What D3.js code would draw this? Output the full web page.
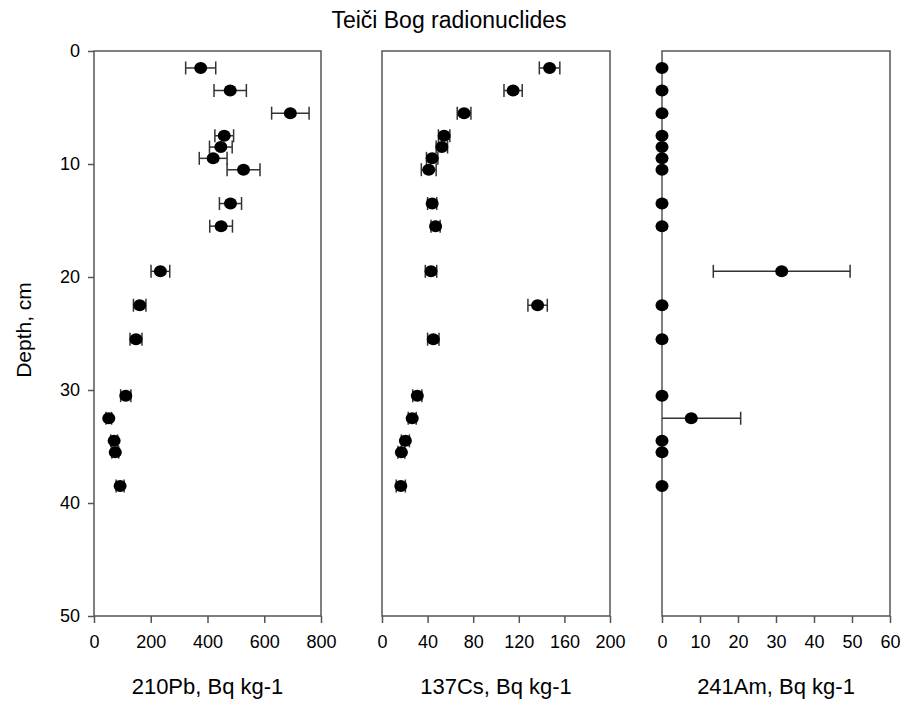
<!DOCTYPE html>
<html>
<head>
<meta charset="utf-8">
<script src="https://cdn.jsdelivr.net/npm/d3@7"></script>
<style>
  body { margin: 0; background: #fff; }
  text { font-family: "Liberation Sans", Arial, sans-serif; fill: #000; }
</style>
</head>
<body>
<svg width="904" height="707"></svg>
<script>
// depth of each slice, cm
var depth = [1.5, 3.5, 5.5, 7.5, 8.5, 9.5, 10.5, 13.5, 15.5, 19.5, 22.5, 25.5, 30.5, 32.5, 34.5, 35.5, 38.5];
// activities, Bq kg-1, with their uncertainties
var pb210 = [376, 480, 692, 459, 447, 420, 527, 481, 448, 234, 161, 148, 112, 52, 71, 75, 92];
var pb210Err = [53, 57, 66, 33, 40, 49, 58, 39, 40, 33, 22, 21, 18, 10, 12, 12, 14];
var cs137 = [147, 115, 72, 54.5, 52.5, 44, 41, 44, 47, 43, 136.5, 45, 31, 26.5, 20.5, 17, 16.5];
var cs137Err = [9, 8, 6, 5, 5, 5, 6.5, 4, 4, 5, 8.5, 5, 4, 3.5, 3.5, 3, 4];
var am241 = [0, 0, 0, 0, 0, 0, 0, 0, 0, 31.5, 0, 0, 0, 7.7, 0, 0, 0];
var am241Err = [0, 0, 0, 0, 0, 0, 0, 0, 0, 18, 0, 0, 0, 13, 0, 0, 0];
// tick labels
var depthTicks = [0, 10, 20, 30, 40, 50];
var pbTicks = [0, 200, 400, 600, 800];
var csTicks = [0, 40, 80, 120, 160, 200];
var amTicks = [0, 10, 20, 30, 40, 50, 60];

var svg = d3.select("svg");
var top_ = 51, bottom = 616;
var frameColor = "#555";

var yScale = d3.scaleLinear().domain([0, 50]).range([top_, bottom]);

// Title
svg.append("text")
    .attr("x", 449).attr("y", 28)
    .attr("text-anchor", "middle")
    .attr("font-size", "23px")
    .text("Teiči Bog radionuclides");

// Y axis title
svg.append("text")
    .attr("transform", "translate(31,330) rotate(-90)")
    .attr("text-anchor", "middle")
    .attr("font-size", "21px")
    .text("Depth, cm");

var panels = [
    { left: 94, right: 321, max: 800, ticks: pbTicks, values: pb210, errs: pb210Err, label: "210Pb, Bq kg-1" },
    { left: 382, right: 610, max: 200, ticks: csTicks, values: cs137, errs: cs137Err, label: "137Cs, Bq kg-1" },
    { left: 662, right: 890, max: 60, ticks: amTicks, values: am241, errs: am241Err, label: "241Am, Bq kg-1" }
];

panels.forEach(function(p, idx) {
    var x = d3.scaleLinear().domain([0, p.max]).range([p.left, p.right]);
    var g = svg.append("g");

    // frame
    g.append("rect")
        .attr("x", p.left).attr("y", top_)
        .attr("width", p.right - p.left).attr("height", bottom - top_)
        .attr("fill", "none").attr("stroke", frameColor).attr("stroke-width", 1.5);

    // x axis
    var xa = g.append("g")
        .attr("transform", "translate(0," + bottom + ")")
        .call(d3.axisBottom(x).tickValues(p.ticks).tickSize(7).tickSizeOuter(0).tickPadding(12));
    xa.select(".domain").remove();
    xa.selectAll("line").attr("stroke", frameColor).attr("stroke-width", 1.5);
    xa.selectAll("text").attr("font-size", "18px").attr("font-family", "Liberation Sans, Arial, sans-serif");

    // y axis on the first panel only
    if (idx === 0) {
        var ya = g.append("g")
            .attr("transform", "translate(" + p.left + ",0)")
            .call(d3.axisLeft(yScale).tickValues(depthTicks).tickSize(6).tickSizeOuter(0).tickPadding(8));
        ya.select(".domain").remove();
        ya.selectAll("line").attr("stroke", frameColor).attr("stroke-width", 1.5);
        ya.selectAll("text").attr("font-size", "18px").attr("font-family", "Liberation Sans, Arial, sans-serif");
    }

    // axis label
    g.append("text")
        .attr("x", (p.left + p.right) / 2).attr("y", 694)
        .attr("text-anchor", "middle")
        .attr("font-size", "22px")
        .text(p.label);

    var rows = depth.map(function(d, i) { return { depth: d, v: p.values[i], e: p.errs[i] }; });
    var withErr = rows.filter(function(d) { return d.e > 0; });

    // error bars
    var eb = g.selectAll(".err").data(withErr).enter().append("g").attr("class", "err")
        .attr("stroke", "#333").attr("stroke-width", 1.5);
    eb.append("line")
        .attr("x1", function(d) { return x(Math.max(0, d.v - d.e)); })
        .attr("x2", function(d) { return x(d.v + d.e); })
        .attr("y1", function(d) { return yScale(d.depth); })
        .attr("y2", function(d) { return yScale(d.depth); });
    eb.filter(function(d) { return d.v - d.e >= 0; }).append("line")
        .attr("x1", function(d) { return x(d.v - d.e); })
        .attr("x2", function(d) { return x(d.v - d.e); })
        .attr("y1", function(d) { return yScale(d.depth) - 6.5; })
        .attr("y2", function(d) { return yScale(d.depth) + 6.5; });
    eb.append("line")
        .attr("x1", function(d) { return x(d.v + d.e); })
        .attr("x2", function(d) { return x(d.v + d.e); })
        .attr("y1", function(d) { return yScale(d.depth) - 6.5; })
        .attr("y2", function(d) { return yScale(d.depth) + 6.5; });

    // points
    g.selectAll(".pt").data(rows).enter().append("ellipse")
        .attr("class", "pt")
        .attr("cx", function(d) { return x(d.v); })
        .attr("cy", function(d) { return yScale(d.depth); })
        .attr("rx", 6.5).attr("ry", 6)
        .attr("fill", "#000");
});
</script>
</body>
</html>
